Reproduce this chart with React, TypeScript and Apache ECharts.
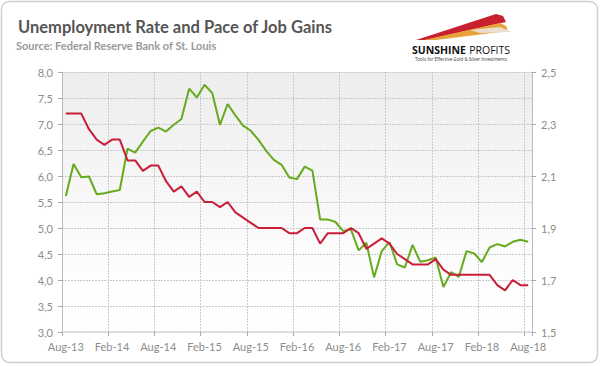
import React, { useEffect, useRef } from "react";
import * as echarts from "echarts";

const MONTHS = ["Jan", "Feb", "Mar", "Apr", "May", "Jun", "Jul", "Aug", "Sep", "Oct", "Nov", "Dec"];
const START_YEAR = 2013;
const START_MONTH_INDEX = 7; // Aug
const MONTH_COUNT = 61; // Aug-13 .. Aug-18

const categories: string[] = Array.from({ length: MONTH_COUNT }, (_, i) => {
  const m = (START_MONTH_INDEX + i) % 12;
  const y = START_YEAR + Math.floor((START_MONTH_INDEX + i) / 12);
  return `${MONTHS[m]}-${String(y).slice(2)}`;
});

// Unemployment rate, % (left axis)
const unemploymentRate: number[] = [
  7.2, 7.2, 7.2, 6.9, 6.7,
  6.6, 6.7, 6.7, 6.3, 6.3, 6.1, 6.2, 6.2, 5.9, 5.7, 5.8, 5.6,
  5.7, 5.5, 5.5, 5.4, 5.5, 5.3, 5.2, 5.1, 5.0, 5.0, 5.0, 5.0,
  4.9, 4.9, 5.0, 5.0, 4.7, 4.9, 4.9, 4.9, 5.0, 4.9, 4.6, 4.7,
  4.8, 4.7, 4.5, 4.4, 4.3, 4.3, 4.3, 4.4, 4.2, 4.1, 4.1, 4.1,
  4.1, 4.1, 4.1, 3.9, 3.8, 4.0, 3.9, 3.9,
];

// Pace of job gains (log scale, right axis)
const jobGains: number[] = [
  2.023, 2.146, 2.095, 2.098, 2.030,
  2.034, 2.040, 2.046, 2.205, 2.190, 2.232, 2.273, 2.286, 2.271, 2.297, 2.319, 2.436,
  2.402, 2.451, 2.419, 2.297, 2.377, 2.333, 2.294, 2.274, 2.239, 2.197, 2.162, 2.143,
  2.094, 2.088, 2.136, 2.121, 1.933, 1.933, 1.923, 1.888, 1.895, 1.814, 1.843, 1.710,
  1.811, 1.846, 1.760, 1.748, 1.835, 1.770, 1.776, 1.787, 1.673, 1.730, 1.712, 1.811,
  1.802, 1.769, 1.825, 1.838, 1.829, 1.847, 1.855, 1.847,
];

const LEFT_MIN = 3;
const LEFT_MAX = 8;
const LEFT_STEP = 0.5;
const RIGHT_MIN = 1.5;
const RIGHT_MAX = 2.5;
const RIGHT_STEP = 0.2;

const TITLE = "Unemployment Rate and Pace of Job Gains";
const SUBTITLE = "Source: Federal Reserve Bank of St. Louis";

const fmt = (v: number) => {
  const s = (Math.round(Number(v) * 10) / 10).toFixed(1);
  return s.split(".").join(",");
};

export default function App() {
  const ref = useRef<HTMLDivElement>(null);

  useEffect(() => {
    document.body.style.margin = "0";
    if (!ref.current) return;
    const chart = echarts.init(ref.current, null, { renderer: "svg" });
    const FONT = "Lato";
    const gridLine = { show: true, lineStyle: { color: "#c9c9c9", type: [2, 1] as any, width: 1 } };

    chart.setOption({
      animation: false,
      backgroundColor: "#ffffff",
      textStyle: { fontFamily: FONT },
      grid: {
        left: 62,
        right: 68,
        top: 72,
        bottom: 34,
        show: true,
        borderWidth: 0,
        backgroundColor: new echarts.graphic.LinearGradient(0, 0, 0, 1, [
          { offset: 0, color: "#ededed" },
          { offset: 0.75, color: "#fdfdfd" },
          { offset: 1, color: "#ffffff" },
        ]),
      },
      xAxis: {
        type: "category",
        data: categories,
        boundaryGap: true,
        axisLine: { show: true, lineStyle: { color: "#d9d9d9", width: 1.5 } },
        axisTick: { show: true, interval: 5, length: 4, alignWithLabel: false, lineStyle: { color: "#aaaaaa" } },
        axisLabel: { interval: 5, color: "#8c8c8c", fontSize: 11, fontFamily: FONT, margin: 9 },
        splitLine: { ...gridLine, interval: 5 },
      },
      yAxis: [
        {
          type: "value",
          min: LEFT_MIN,
          max: LEFT_MAX,
          interval: LEFT_STEP,
          position: "left",
          axisLine: { show: true, lineStyle: { color: "#bbbbbb" } },
          axisTick: { show: true, length: 4, lineStyle: { color: "#aaaaaa" } },
          axisLabel: { color: "#8c8c8c", fontSize: 11, fontFamily: FONT, margin: 9, formatter: (v: number) => fmt(v) },
          splitLine: gridLine,
        },
        {
          type: "value",
          min: RIGHT_MIN,
          max: RIGHT_MAX,
          interval: RIGHT_STEP,
          position: "right",
          axisLine: { show: true, lineStyle: { color: "#bbbbbb" } },
          axisTick: { show: true, length: 4, lineStyle: { color: "#aaaaaa" } },
          axisLabel: { color: "#8c8c8c", fontSize: 11, fontFamily: FONT, margin: 9, formatter: (v: number) => fmt(v) },
          splitLine: { show: false },
        },
      ],
      series: [
        {
          name: "Pace of Job Gains",
          type: "line",
          yAxisIndex: 1,
          data: jobGains,
          symbol: "none",
          lineStyle: { color: "#66aa1e", width: 2 },
          z: 2,
        },
        {
          name: "Unemployment Rate",
          type: "line",
          yAxisIndex: 0,
          data: unemploymentRate,
          symbol: "none",
          lineStyle: { color: "#c81e3a", width: 2 },
          z: 3,
        },
      ],
      graphic: [
        {
          type: "rect",
          shape: { x: 1.5, y: 1.5, width: 596, height: 361, r: 8 },
          style: { fill: "none", stroke: "#cfcfcf", lineWidth: 1.5 },
          silent: true,
          z: 100,
        },
        {
          type: "text",
          x: 18,
          y: 27,
          style: {
            text: TITLE,
            fill: "#555555",
            font: `bold 16.5px ${FONT}`,
            textVerticalAlign: "middle",
          },
        },
        {
          type: "text",
          x: 16,
          y: 45,
          style: {
            text: SUBTITLE,
            fill: "#9a9a9a",
            font: `bold 11px ${FONT}`,
            textVerticalAlign: "middle",
          },
        },
        // logo swooshes
        {
          type: "polygon",
          shape: { points: [[416, 40], [496, 14], [503, 16], [506, 22], [426, 40]] },
          style: { fill: "#c8202f" },
        },
        {
          type: "polygon",
          shape: { points: [[424, 40], [500, 23], [506, 26], [508, 31], [436, 40]] },
          style: { fill: "#e8a23a" },
        },
        {
          type: "polygon",
          shape: { points: [[470, 30], [500, 27], [512, 32], [480, 33]] },
          style: { fill: "#eadfcf" },
        },
        {
          type: "text",
          x: 461,
          y: 49.5,
          style: {
            text: "{b|SUNSHINE} {r|PROFITS}",
            align: "center",
            verticalAlign: "middle",
            rich: {
              b: { fontFamily: "Open Sans", fontWeight: "bold", fontSize: 10.5, lineHeight: 11, fill: "#111111" },
              r: { fontFamily: "Open Sans", fontWeight: "normal", fontSize: 10.5, lineHeight: 11, fill: "#111111" },
            },
          },
        },
        {
          type: "text",
          x: 461,
          y: 59,
          style: {
            text: "Tools for Effective Gold & Silver Investments",
            align: "center",
            verticalAlign: "middle",
            font: "4.5px Open Sans",
            fill: "#333333",
          },
        },
      ],
    });

    return () => chart.dispose();
  }, []);

  return <div ref={ref} style={{ width: 600, height: 366 }} />;
}
